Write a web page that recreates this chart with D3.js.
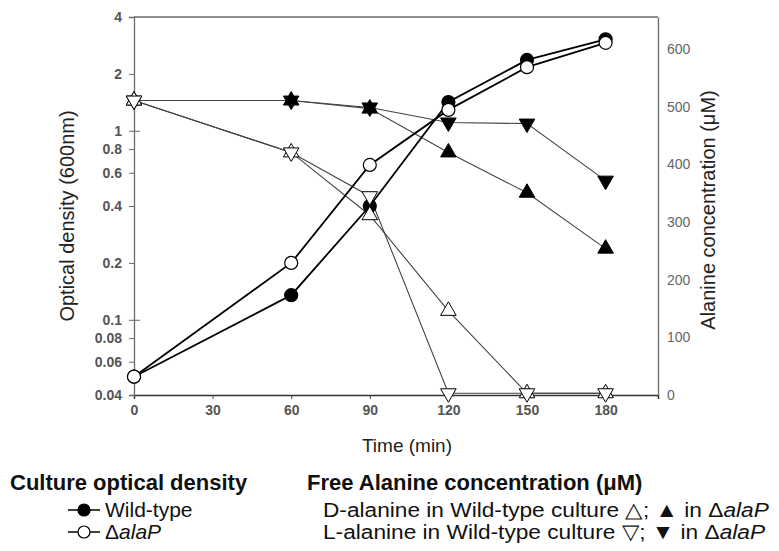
<!DOCTYPE html>
<html>
<head>
<meta charset="utf-8">
<script src="https://cdn.jsdelivr.net/npm/d3@7"></script>
<style>
  body { margin: 0; background: #fff; }
  svg { display: block; font-family: "Liberation Sans", Arial, sans-serif; }
</style>
</head>
<body>
<div id="chart"></div>
<script>
// sampling times (min)
const times = [0, 60, 90, 120, 150, 180];

// culture optical density (600nm), log axis on the left
const odWildType = [0.05, 0.135, 0.40, 1.42, 2.37, 3.05];
const odAlaP     = [0.05, 0.20, 0.66, 1.29, 2.17, 2.92];

// free alanine (uM), linear axis on the right
const dAlaWildType = [511, 421, 312, 146, 3, 3];   // open up triangles
const lAlaWildType = [511, 421, 345, 3, 3, 3];     // open down triangles
const dAlaAlaP     = [511, 511, 497, 421, 351, 254]; // filled up triangles
const lAlaAlaP     = [511, 511, 499, 473, 471, 372]; // filled down triangles

// tick labels
const xTicks = [0, 30, 60, 90, 120, 150, 180];
const odTicks = [0.04, 0.06, 0.08, 0.1, 0.2, 0.4, 0.6, 0.8, 1, 2, 4];
const alaTicks = [0, 100, 200, 300, 400, 500, 600];

const width = 779, height = 551;
const margin = {top: 17, right: 121, bottom: 156, left: 134};

const svg = d3.select("#chart").append("svg")
    .attr("width", width)
    .attr("height", height);

const x = d3.scaleLinear().domain([0, 200]).range([margin.left, width - margin.right]);
const yOD = d3.scaleLog().domain([0.04, 4]).range([height - margin.bottom, margin.top]);
const yAla = d3.scaleLinear().domain([0, 656]).range([height - margin.bottom, margin.top]);

const frame = "#6a6a6a";

// top border
svg.append("line")
    .attr("x1", x.range()[0]).attr("x2", x.range()[1])
    .attr("y1", margin.top).attr("y2", margin.top)
    .attr("stroke", frame).attr("stroke-width", 1.3);

// x axis
const gx = svg.append("g")
    .attr("transform", "translate(0," + (height - margin.bottom) + ")")
    .call(d3.axisBottom(x).tickValues(xTicks).tickSizeOuter(0).tickSize(4).tickPadding(6));
gx.select(".domain").attr("stroke", "#333").attr("stroke-width", 1.5);
gx.selectAll(".tick line").attr("stroke", "#444");
gx.selectAll(".tick text").attr("font-size", 14).attr("fill", "#555").attr("font-weight", "bold");

// left axis (log)
const gl = svg.append("g")
    .attr("transform", "translate(" + margin.left + ",0)")
    .call(d3.axisLeft(yOD).tickValues(odTicks).tickFormat(d => String(d)).tickSizeOuter(0).tickSize(5).tickPadding(7));
gl.select(".domain").attr("stroke", frame).attr("stroke-width", 1.3);
gl.selectAll(".tick line").attr("stroke", "#666");
gl.selectAll(".tick text").attr("font-size", 14).attr("fill", "#555").attr("font-weight", "bold");
gl.selectAll(".tick").filter(d => d === 1 || d === 0.1)
  .append("line").attr("x2", 6).attr("stroke", "#666");

// right axis (linear)
const gr = svg.append("g")
    .attr("transform", "translate(" + (width - margin.right) + ",0)")
    .call(d3.axisRight(yAla).tickValues(alaTicks).tickSizeOuter(0).tickSize(0).tickPadding(9));
gr.select(".domain").attr("stroke", frame).attr("stroke-width", 1.3);
gr.selectAll(".tick text").attr("font-size", 14).attr("fill", "#666");

// axis titles
svg.append("text")
    .attr("transform", "translate(74," + 216 + ") rotate(-90)")
    .attr("text-anchor", "middle")
    .attr("font-size", 20).attr("fill", "#222")
    .text("Optical density (600nm)");

svg.append("text")
    .attr("transform", "translate(715," + 210 + ") rotate(-90)")
    .attr("text-anchor", "middle")
    .attr("font-size", 20).attr("fill", "#222")
    .text("Alanine concentration (\u03bcM)");

svg.append("text")
    .attr("x", 407).attr("y", 452)
    .attr("text-anchor", "middle")
    .attr("font-size", 19).attr("fill", "#222")
    .text("Time (min)");

// series
const tri = d3.symbol().type(d3.symbolTriangle).size(105);
const series = [
  {vals: lAlaAlaP, y: yAla, shape: "down", fill: "#000", line: "#444", lw: 1.1},
  {vals: dAlaAlaP, y: yAla, shape: "up", fill: "#000", line: "#444", lw: 1.1},
  {vals: dAlaWildType, y: yAla, shape: "up", fill: "#fff", line: "#444", lw: 1.1},
  {vals: lAlaWildType, y: yAla, shape: "down", fill: "#fff", line: "#444", lw: 1.1},
  {vals: odWildType, y: yOD, shape: "circle", fill: "#000", line: "#000", lw: 1.8},
  {vals: odAlaP, y: yOD, shape: "circle", fill: "#fff", line: "#000", lw: 1.8}
];

// lines first
series.forEach(s => {
  const line = d3.line().x((d, i) => x(times[i])).y(d => s.y(d));
  svg.append("path")
      .datum(s.vals)
      .attr("d", line)
      .attr("fill", "none")
      .attr("stroke", s.line)
      .attr("stroke-width", s.lw);
});

// markers: circles, then filled triangles, then open triangles
const order = [4, 5, 0, 1, 2, 3];
order.forEach(k => {
  const s = series[k];
  const g = svg.append("g");
  s.vals.forEach((v, i) => {
    const cx = x(times[i]), cy = s.y(v);
    if (s.shape === "circle") {
      g.append("circle").attr("cx", cx).attr("cy", cy).attr("r", 6.5)
        .attr("fill", s.fill).attr("stroke", "#000").attr("stroke-width", 1.2);
    } else {
      g.append("path").attr("d", tri)
        .attr("transform", "translate(" + cx + "," + cy + ")" + (s.shape === "down" ? " rotate(180)" : ""))
        .attr("fill", s.fill).attr("stroke", "#000").attr("stroke-width", 1);
    }
  });
});

// legend
const lg = svg.append("g").attr("fill", "#111");
lg.append("text").attr("x", 10).attr("y", 490)
  .attr("font-size", 22).attr("font-weight", "bold").text("Culture optical density");

[{y: 510, fill: "#000", label: "Wild-type"}, {y: 532, fill: "#fff", label: null}].forEach(r => {
  lg.append("line").attr("x1", 68).attr("x2", 100).attr("y1", r.y).attr("y2", r.y)
    .attr("stroke", "#000").attr("stroke-width", 1.5);
  lg.append("circle").attr("cx", 84).attr("cy", r.y).attr("r", 6)
    .attr("fill", r.fill).attr("stroke", "#000").attr("stroke-width", 1.2);
  const t = lg.append("text").attr("x", 105).attr("y", r.y + 7).attr("font-size", 21);
  if (r.label) t.text(r.label);
  else { t.append("tspan").text("\u0394"); t.append("tspan").attr("font-style", "italic").text("alaP"); }
});

lg.append("text").attr("x", 307).attr("y", 490)
  .attr("font-size", 22).attr("font-weight", "bold").text("Free Alanine concentration (\u03bcM)");

// the alanine rows are a little wider than plain Arial in the original
const rowD = lg.append("text").attr("transform", "translate(323,517) scale(1.08,1)").attr("font-size", 21);
rowD.append("tspan").text("D-alanine in Wild-type culture \u25b3; \u25b2 in \u0394");
rowD.append("tspan").attr("font-style", "italic").text("alaP");

const rowL = lg.append("text").attr("transform", "translate(323,539) scale(1.08,1)").attr("font-size", 21);
rowL.append("tspan").text("L-alanine in Wild-type culture \u25bd; \u25bc in \u0394");
rowL.append("tspan").attr("font-style", "italic").text("alaP");
</script>
</body>
</html>
